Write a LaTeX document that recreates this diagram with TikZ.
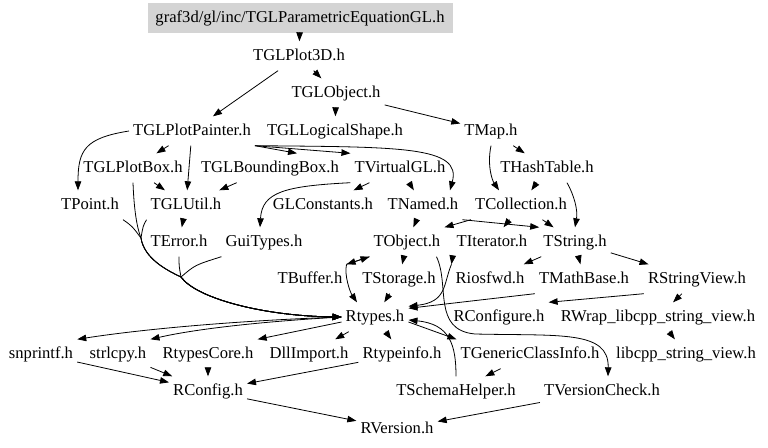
\documentclass[tikz,border=0pt]{standalone}
\usepackage{fontspec}
\setmainfont{Liberation Serif}
\usepackage{tikz}
\usetikzlibrary{arrows.meta,calc}

\begin{document}
\begin{tikzpicture}[x=1pt,y=-1pt,arrow/.style = {line width=0.8pt,-{Triangle[length=9pt,width=6.5pt]}}]
		\tikzset{hdr/.style={rectangle,inner xsep=4pt,inner ysep=0pt,minimum height=29pt,text height=1em,text depth=0.2em,font=\fontsize{16.6}{20}\selectfont}}
		\tikzset{hdrroot/.style={hdr,fill=black!17,minimum width=305pt,minimum height=30pt}}
		\useasboundingbox (0,0) rectangle (768,447);

		\node[hdrroot] (root) at (300,18) {graf3d/gl/inc/TGLParametricEquationGL.h};
		\node[hdr] (tglplot3d) at (299,56) {TGLPlot3D.h};
		\node[hdr] (tglobject) at (336,93) {TGLObject.h};
		\node[hdr] (tglplotpainter) at (192,131) {TGLPlotPainter.h};
		\node[hdr] (tgllogicalshape) at (335,131) {TGLLogicalShape.h};
		\node[hdr] (tmap) at (491,131) {TMap.h};
		\node[hdr] (tglplotbox) at (133,168) {TGLPlotBox.h};
		\node[hdr] (tglboundingbox) at (270,168) {TGLBoundingBox.h};
		\node[hdr] (tvirtualgl) at (400,168) {TVirtualGL.h};
		\node[hdr] (thashtable) at (547,168) {THashTable.h};
		\node[hdr] (tpoint) at (90,205) {TPoint.h};
		\node[hdr] (tglutil) at (186,205) {TGLUtil.h};
		\node[hdr] (glconstants) at (323,205) {GLConstants.h};
		\node[hdr] (tnamed) at (423,205) {TNamed.h};
		\node[hdr] (tcollection) at (521,205) {TCollection.h};
		\node[hdr] (terror) at (179,242) {TError.h};
		\node[hdr] (guitypes) at (264,242) {GuiTypes.h};
		\node[hdr] (tobject) at (407,242) {TObject.h};
		\node[hdr] (titerator) at (492,242) {TIterator.h};
		\node[hdr] (tstring) at (575,242) {TString.h};
		\node[hdr] (tbuffer) at (310,279) {TBuffer.h};
		\node[hdr] (tstorage) at (399,279) {TStorage.h};
		\node[hdr] (riosfwd) at (490,279) {Riosfwd.h};
		\node[hdr] (tmathbase) at (584,279) {TMathBase.h};
		\node[hdr] (rstringview) at (697,279) {RStringView.h};
		\node[hdr] (rtypes) at (375,317) {Rtypes.h};
		\node[hdr] (rconfigure) at (499,317) {RConfigure.h};
		\node[hdr] (rwrap) at (658,317) {RWrap\_libcpp\_string\_view.h};
		\node[hdr] (snprintf) at (41,354) {snprintf.h};
		\node[hdr] (strlcpy) at (118,354) {strlcpy.h};
		\node[hdr] (rtypescore) at (208,354) {RtypesCore.h};
		\node[hdr] (dllimport) at (309,354) {DllImport.h};
		\node[hdr] (rtypeinfo) at (402,354) {Rtypeinfo.h};
		\node[hdr] (tgenericclassinfo) at (530,354) {TGenericClassInfo.h};
		\node[hdr] (libcpp) at (686,354) {libcpp\_string\_view.h};
		\node[hdr] (rconfig) at (208,391) {RConfig.h};
		\node[hdr] (tschemahelper) at (456,391) {TSchemaHelper.h};
		\node[hdr] (tversioncheck) at (602,391) {TVersionCheck.h};
		\node[hdr] (rversion) at (397,429) {RVersion.h};

		\coordinate (j1) at (141,238);
		\coordinate (j2) at (181,277);

		\draw [arrow] (root) -- (tglplot3d);
		\draw [arrow] (tglplot3d) -- (tglplotpainter);
		\draw [arrow] (tglplot3d) -- (tglobject);
		\draw [arrow] (tglobject) -- (tgllogicalshape);
		\draw [arrow] (tglobject) -- (tmap);

		\draw [arrow] (tglplotpainter.west) .. controls (85,138) and (78,150) .. ([xshift=-12pt]tpoint.north);
		\draw [arrow] (tglplotpainter) -- (tglplotbox);
		\draw [arrow] (tglplotpainter) -- (tglutil);
		\draw [arrow] (tglplotpainter.south east) -- ([xshift=27pt]tglboundingbox.north);
		\draw [arrow] (tglplotpainter.south east) -- (tvirtualgl.north west);
		\draw [arrow] (tglplotpainter.south east) .. controls (400,147) and (462,146) .. ([xshift=27pt]tnamed.north);
		\draw [arrow] (tmap) -- (thashtable);
		\draw [arrow] (tmap.south) .. controls (487,165) and (492,180) .. ([xshift=-22pt]tcollection.north);
		\draw [arrow] (thashtable) -- (tcollection);
		\draw [arrow] ([xshift=20pt]thashtable.south) .. controls (574,195) and (578,210) .. (tstring.north);

		\draw [arrow] (tglplotbox) -- (tglutil);
		\draw [arrow] (tglboundingbox) -- (tglutil);
		\draw [arrow] (tvirtualgl) -- (glconstants);
		\draw [arrow] (tvirtualgl) -- (tnamed);
		\draw [arrow] (tvirtualgl.south west) .. controls (285,186) and (262,192) .. ([xshift=-4pt]guitypes.north);
		\draw [arrow] (tglutil) -- (terror);
		\draw [arrow] (tnamed) -- (tobject);
		\draw [arrow] (tnamed.south east) -- (tstring.north west);
		\draw [arrow] (tcollection.south west) -- (tobject.north east);
		\draw [arrow] (tcollection) -- (titerator);
		\draw [arrow] (tcollection) -- (tstring);

		\draw [arrow] (tpoint.south east) .. controls (132,226) .. (j1) .. controls (144,258) and (166,270) .. (j2) .. controls (196,298) and (262,316) .. (rtypes.west);
		\draw [arrow] (tglplotbox.south) .. controls (134,210) and (137,228) .. (j1) .. controls (144,258) and (166,270) .. (j2) .. controls (196,298) and (262,316) .. (rtypes.west);
		\draw [arrow] (tglutil.south west) .. controls (143,226) .. (j1) .. controls (144,258) and (166,270) .. (j2) .. controls (196,298) and (262,316) .. (rtypes.west);
		\draw [arrow] (terror.south) .. controls (179,266) .. (j2) .. controls (196,298) and (262,316) .. (rtypes.west);
		\draw [arrow] (guitypes.south west) .. controls (195,265) .. (j2) .. controls (196,298) and (262,316) .. (rtypes.west);

		\draw [arrow] (tobject.south west) -- (tbuffer.north east);
		\draw [arrow] (tbuffer.north east) -- (tobject.south west);
		\draw [arrow] (tbuffer.north east) .. controls (344,275) and (350,292) .. ([xshift=-18pt]rtypes.north);
		\draw [arrow] (tobject) -- (tstorage);
		\draw [arrow] (tstorage) -- (rtypes);
		\draw [arrow] (titerator.south west) -- (riosfwd.north west);
		\draw [arrow] (riosfwd.north west) .. controls (443,285) and (447,302) .. ([yshift=-4pt]rtypes.north east);
		\draw [arrow] ([xshift=-8pt]tobject.south east) .. controls (450,285) and (432,330) .. (475,334) .. controls (560,336) and (609,330) .. ([xshift=6pt]tversioncheck.north);
		\draw [arrow] (tstring) -- (riosfwd);
		\draw [arrow] (tstring) -- (tmathbase);
		\draw [arrow] (tstring) -- (rstringview);
		\draw [arrow] (tmathbase.south west) .. controls (480,300) .. ([yshift=-6pt]rtypes.north east);
		\draw [arrow] (rstringview.south west) -- (rconfigure.north east);
		\draw [arrow] (rstringview) -- (rwrap);
		\draw [arrow] (rwrap) -- (libcpp);

		\draw [arrow] (rtypes.west) .. controls (250,320) and (150,328) .. (snprintf.north east);
		\draw [arrow] (rtypes.west) .. controls (270,321) and (200,328) .. (strlcpy.north east);
		\draw [arrow] ([yshift=-5pt]rtypes.west) -- (rtypescore.north east);
		\draw [arrow] (rtypes) -- (dllimport);
		\draw [arrow] (rtypes) -- (rtypeinfo);
		\draw [arrow] ([yshift=-5pt]rtypes.east) -- (tgenericclassinfo.north west);
		\draw [arrow] (tschemahelper.north) .. controls (456,345) and (450,324) .. ([yshift=-3pt]rtypes.east);
		\draw [arrow] (tgenericclassinfo) -- (tschemahelper);

		\draw [arrow] (snprintf) -- (rconfig);
		\draw [arrow] (strlcpy) -- (rconfig);
		\draw [arrow] (rtypescore) -- (rconfig);
		\draw [arrow] (rtypeinfo) -- (rconfig);
		\draw [arrow] (rconfig) -- (rversion);
		\draw [arrow] (tversioncheck) -- (rversion);

	\end{tikzpicture}
\end{document}
